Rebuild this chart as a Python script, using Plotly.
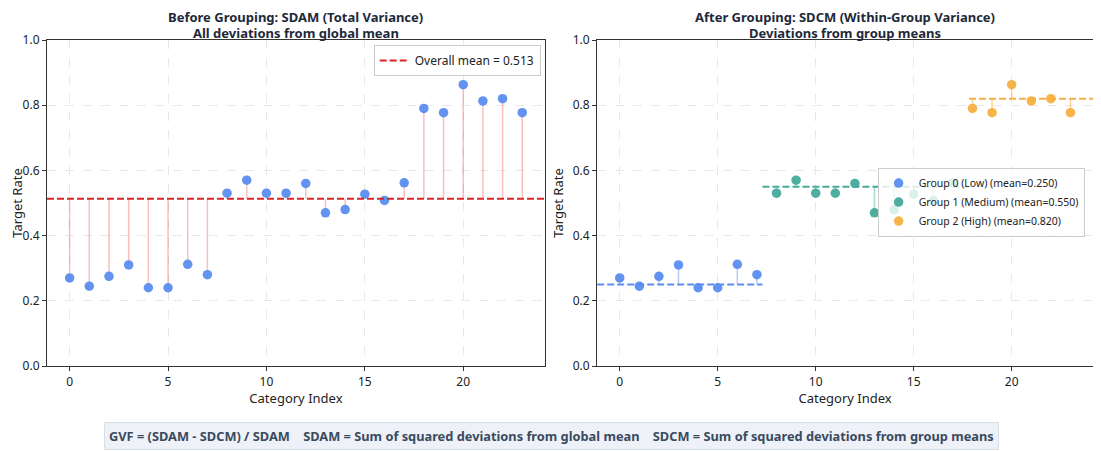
import plotly.graph_objects as go
from plotly.subplots import make_subplots

# data
target_rate = [0.270, 0.245, 0.275, 0.310, 0.240, 0.240, 0.312, 0.280,
               0.530, 0.570, 0.530, 0.530, 0.560, 0.470, 0.480, 0.527,
               0.508, 0.562,
               0.790, 0.777, 0.863, 0.813, 0.820, 0.777]
group_id = [0] * 8 + [1] * 10 + [2] * 6
group_names = ["Group 0 (Low)", "Group 1 (Medium)", "Group 2 (High)"]
group_means = [0.250, 0.550, 0.820]
overall_mean = 0.513
x_ticks = [0, 5, 10, 15, 20]
y_ticks = [0.0, 0.2, 0.4, 0.6, 0.8, 1.0]
title_lines = [["Before Grouping: SDAM (Total Variance)", "All deviations from global mean"],
               ["After Grouping: SDCM (Within-Group Variance)", "Deviations from group means"]]

blue = "#5B8DEF"
colors = ["#5B8DEF", "#45AA9B", "#F5B041"]
stem_alpha = ["rgba(91,141,239,0.45)", "rgba(69,170,155,0.45)", "rgba(245,176,65,0.55)"]
red = "#DC2626"
font = "Noto Sans"
dark = "#1E293B"
dash = "7px,3px"

idx = list(range(len(target_rate)))
n = len(idx)

fig = make_subplots(rows=1, cols=2, horizontal_spacing=0.05)

# left panel: stems to the global mean
sx, sy = [], []
for i, v in zip(idx, target_rate):
    sx += [i, i, None]
    sy += [overall_mean, v, None]
fig.add_trace(go.Scatter(x=sx, y=sy, mode="lines", showlegend=False,
                         line=dict(color="rgba(239,68,68,0.35)", width=1.5),
                         hoverinfo="skip"), row=1, col=1)
fig.add_shape(type="line", xref="x domain", yref="y", x0=0, x1=1,
              y0=overall_mean, y1=overall_mean,
              line=dict(color=red, width=2, dash=dash),
              showlegend=True, legend="legend",
              name="Overall mean = %.3f" % overall_mean)
fig.add_trace(go.Scatter(x=idx, y=target_rate, mode="markers", showlegend=False,
                         marker=dict(color=blue, size=9.5, opacity=0.95)),
              row=1, col=1)

# right panel: stems to group means
for g, name in enumerate(group_names):
    gx = [i for i in idx if group_id[i] == g]
    gy = [target_rate[i] for i in gx]
    m = group_means[g]
    lx, ly = [], []
    for i, v in zip(gx, gy):
        lx += [i, i, None]
        ly += [m, v, None]
    fig.add_trace(go.Scatter(x=lx, y=ly, mode="lines", showlegend=False,
                             line=dict(color=stem_alpha[g], width=1.5),
                             hoverinfo="skip"), row=1, col=2)
    fig.add_shape(type="line", xref="x2 domain", yref="y2",
                  x0=min(gx) / n, x1=(max(gx) + 1) / n, y0=m, y1=m,
                  line=dict(color=colors[g], width=2, dash=dash))
    fig.add_trace(go.Scatter(x=gx, y=gy, mode="markers",
                             name="%s (mean=%.3f)" % (name, m), legend="legend2",
                             marker=dict(color=colors[g], size=9.5, opacity=0.95)),
                  row=1, col=2)

axis_style = dict(showline=True, linecolor="#333333", linewidth=1.2, mirror=True,
                  ticks="outside", ticklen=4, tickcolor="#333333",
                  showgrid=True, gridcolor="#E8E8E8", griddash="dash", gridwidth=1,
                  zeroline=False, automargin=False,
                  tickfont=dict(size=12, color="#222222"),
                  title_font=dict(size=13, color="#222222"))

for c in (1, 2):
    fig.update_xaxes(axis_style, range=[-1.15, 24.15], tickvals=x_ticks,
                     title_text="Category Index", title_standoff=0, row=1, col=c)
    fig.update_yaxes(axis_style, range=[0, 1], tickvals=y_ticks, tickformat=".1f",
                     title_text="Target Rate", title_standoff=6, row=1, col=c)

fig.update_xaxes(domain=[0, 0.476], row=1, col=1)
fig.update_xaxes(domain=[0.526, 1], row=1, col=2)

# two-line bold titles, placed line by line for tight spacing
for lines, xc in zip(title_lines, [0.238, 0.763]):
    for txt, yy in zip(lines, [1.0712, 1.023]):
        fig.add_annotation(text="<b>%s</b>" % txt, xref="paper", yref="paper",
                           x=xc, y=yy, xanchor="center", yanchor="middle",
                           showarrow=False, borderpad=0,
                           font=dict(size=13, color=dark, family=font))

fig.add_annotation(
    text="<b>GVF = (SDAM - SDCM) / SDAM    SDAM = Sum of squared deviations from global mean"
         "    SDCM = Sum of squared deviations from group means</b>",
    xref="paper", yref="paper", x=0.482, y=-0.215, xanchor="center", yanchor="middle",
    showarrow=False, font=dict(size=12.8, color="#3A4A5E", family=font),
    bgcolor="#EEF2F8", bordercolor="#D6DEEA", borderwidth=1, borderpad=4)

# page body adds an 8px offset, so the figure is drawn 8px smaller
fig.update_layout(
    width=1093, height=443,
    margin=dict(l=39, r=8, t=32, b=85),
    paper_bgcolor="white", plot_bgcolor="white",
    font=dict(family=font, color="#222222"),
    legend=dict(x=0.472, y=0.985, xanchor="right", yanchor="top",
                bgcolor="rgba(255,255,255,0.9)", bordercolor="#CCCCCC", borderwidth=1,
                font=dict(size=12), itemwidth=30),
    legend2=dict(x=0.992, y=0.503, xanchor="right", yanchor="middle",
                 bgcolor="rgba(255,255,255,0.8)", bordercolor="#CCCCCC", borderwidth=1,
                 font=dict(size=10.5), tracegroupgap=0, itemwidth=30),
)

fig.write_html("out.html")
